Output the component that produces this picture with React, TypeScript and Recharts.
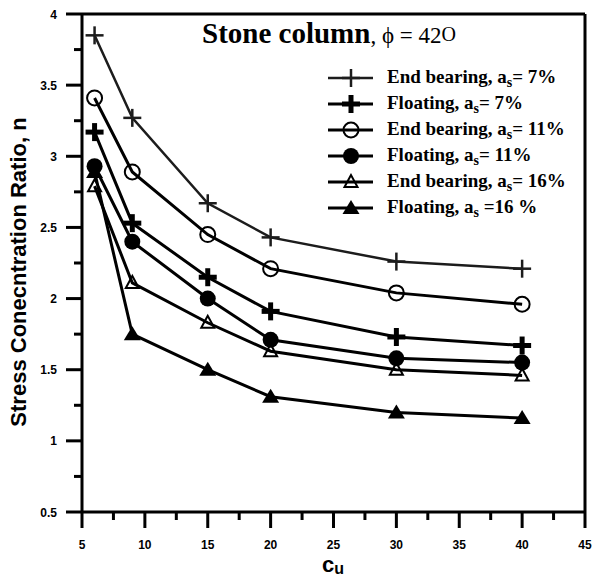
import { LineChart, Line, XAxis, YAxis, ReferenceLine } from "recharts";

// c_u values (x) and stress concentration ratio n (y) for each case
const cu = [6, 9, 15, 20, 30, 40];
const endBearing7 = [3.85, 3.27, 2.67, 2.43, 2.26, 2.21];
const floating7 = [3.17, 2.53, 2.15, 1.91, 1.73, 1.67];
const endBearing11 = [3.41, 2.89, 2.45, 2.21, 2.04, 1.96];
const floating11 = [2.93, 2.40, 2.00, 1.71, 1.58, 1.55];
const endBearing16 = [2.79, 2.11, 1.83, 1.63, 1.50, 1.46];
const floating16 = [2.89, 1.75, 1.50, 1.31, 1.20, 1.16];

const xTicks = [5, 7.5, 10, 12.5, 15, 17.5, 20, 22.5, 25, 27.5, 30, 32.5, 35, 37.5, 40, 42.5, 45];
const yTicks = [0.5, 0.75, 1, 1.25, 1.5, 1.75, 2, 2.25, 2.5, 2.75, 3, 3.25, 3.5, 3.75, 4];

const data = cu.map((c, i) => ({
  cu: c,
  eb7: endBearing7[i],
  fl7: floating7[i],
  eb11: endBearing11[i],
  fl11: floating11[i],
  eb16: endBearing16[i],
  fl16: floating16[i],
}));

const SERIF = "'Liberation Serif', 'Times New Roman', serif";
const SANS = "'Liberation Sans', Arial, sans-serif";

type Kind = "thinPlus" | "thickPlus" | "openCircle" | "filledCircle" | "openTriangle" | "filledTriangle";

const SERIES: { key: string; kind: Kind; label: string; tail: string; color: string; width: number }[] = [
  { key: "eb7", kind: "thinPlus", label: "End bearing, a", tail: "= 7%", color: "#1c1c1c", width: 2.5 },
  { key: "fl7", kind: "thickPlus", label: "Floating, a", tail: "= 7%", color: "#000", width: 3 },
  { key: "eb11", kind: "openCircle", label: "End bearing, a", tail: "= 11%", color: "#000", width: 3 },
  { key: "fl11", kind: "filledCircle", label: "Floating, a", tail: "= 11%", color: "#000", width: 3 },
  { key: "eb16", kind: "openTriangle", label: "End bearing, a", tail: "= 16%", color: "#000", width: 3 },
  { key: "fl16", kind: "filledTriangle", label: "Floating, a", tail: " =16 %", color: "#000", width: 3 },
];

function Marker({ kind, cx, cy }: { kind: Kind; cx: number; cy: number }) {
  switch (kind) {
    case "thinPlus":
      return (
        <g>
          <line x1={cx - 9} x2={cx + 9} y1={cy} y2={cy} stroke="#1c1c1c" strokeWidth={2.5} />
          <line x1={cx} x2={cx} y1={cy - 9} y2={cy + 9} stroke="#1c1c1c" strokeWidth={2.5} />
        </g>
      );
    case "thickPlus":
      return (
        <g>
          <line x1={cx - 9} x2={cx + 9} y1={cy} y2={cy} stroke="#000" strokeWidth={5} />
          <line x1={cx} x2={cx} y1={cy - 9} y2={cy + 9} stroke="#000" strokeWidth={5} />
        </g>
      );
    case "openCircle":
      return <circle cx={cx} cy={cy} r={7.5} fill="none" stroke="#000" strokeWidth={2} />;
    case "filledCircle":
      return <circle cx={cx} cy={cy} r={8} fill="#000" />;
    case "openTriangle":
      return (
        <polygon
          points={`${cx},${cy - 7} ${cx - 6.5},${cy + 5} ${cx + 6.5},${cy + 5}`}
          fill="none"
          stroke="#000"
          strokeWidth={2}
        />
      );
    case "filledTriangle":
      return <polygon points={`${cx},${cy - 8} ${cx - 8.5},${cy + 6} ${cx + 8.5},${cy + 6}`} fill="#000" />;
  }
}

function XTick(props: any) {
  const { x, y, payload } = props;
  const v = payload.value;
  const major = v % 5 === 0;
  return (
    <g>
      <line x1={x} x2={x} y1={y} y2={y + (major ? 16 : 8)} stroke="#000" strokeWidth={3} />
      {major && (
        <text x={x} y={y + 36.5} textAnchor="middle" fontFamily={SANS} fontWeight="bold" fontSize={12} fill="#000">
          {v}
        </text>
      )}
    </g>
  );
}

function YTick(props: any) {
  const { x, y, payload } = props;
  const v = payload.value;
  const major = Math.abs(v * 2 - Math.round(v * 2)) < 1e-6;
  return (
    <g>
      <line x1={x - (major ? 16 : 8)} x2={x} y1={y} y2={y} stroke="#000" strokeWidth={3} />
      {major && (
        <text x={x - 25} y={y + 4.5} textAnchor="end" fontFamily={SANS} fontWeight="bold" fontSize={12} fill="#000">
          {v}
        </text>
      )}
    </g>
  );
}

const LEGEND_Y0 = 78;
const LEGEND_STEP = 26;

export default function App() {
  return (
    <div style={{ position: "absolute", left: 0, top: 0, width: 593, height: 577, background: "#fff" }}>
      <LineChart width={593} height={577} data={data} margin={{ top: 14, right: 8, bottom: 0, left: 0 }}>
        <XAxis
          dataKey="cu"
          type="number"
          domain={[5, 45]}
          ticks={xTicks}
          interval={0}
          height={65}
          tickSize={0}
          tickMargin={0}
          tickLine={false}
          axisLine={{ stroke: "#000", strokeWidth: 3 }}
          tick={<XTick />}
        />
        <YAxis
          type="number"
          domain={[0.5, 4]}
          ticks={yTicks}
          interval={0}
          width={82}
          tickSize={0}
          tickMargin={0}
          tickLine={false}
          axisLine={{ stroke: "#000", strokeWidth: 3 }}
          tick={<YTick />}
        />
        <ReferenceLine y={4} stroke="#000" strokeWidth={3} />
        <ReferenceLine x={45} stroke="#000" strokeWidth={3} />
        {SERIES.map((s) => (
          <Line
            key={s.key}
            type="linear"
            dataKey={s.key}
            stroke={s.color}
            strokeWidth={s.width}
            isAnimationActive={false}
            activeDot={false}
            dot={(p: any) => <Marker key={`${s.key}-${p.index}`} kind={s.kind} cx={p.cx} cy={p.cy} />}
          />
        ))}

        {/* title */}
        <text x={202} y={43} fontFamily={SERIF} fontSize={29} fill="#000">
          <tspan fontWeight="bold">Stone column</tspan>
          <tspan fontSize={23}>, ϕ = 42</tspan>
          <tspan fontSize={20} dy={-2}>O</tspan>
        </text>

        {/* legend */}
        {SERIES.map((s, i) => {
          const ly = LEGEND_Y0 + i * LEGEND_STEP;
          return (
            <g key={`lg-${s.key}`}>
              <line x1={328} x2={373} y1={ly} y2={ly} stroke={s.color} strokeWidth={s.width} />
              <Marker kind={s.kind} cx={351} cy={ly} />
              <text x={387} y={ly + 5} fontFamily={SERIF} fontWeight="bold" fontSize={19} fill="#000">
                {s.label}
                <tspan fontSize={14} dy={4}>s</tspan>
                <tspan dy={-4}>{s.tail}</tspan>
              </text>
            </g>
          );
        })}

        {/* axis titles */}
        <text
          transform="rotate(-90)"
          x={-272}
          y={26}
          textAnchor="middle"
          fontFamily={SANS}
          fontWeight="bold"
          fontSize={22}
          fill="#000"
        >
          Stress Conecntration Ratio, n
        </text>
        <text x={333} y={572} textAnchor="middle" fontFamily={SANS} fontWeight="bold" fontSize={22} fill="#000">
          c<tspan fontSize={16} dy={2}>u</tspan>
        </text>
      </LineChart>
    </div>
  );
}
